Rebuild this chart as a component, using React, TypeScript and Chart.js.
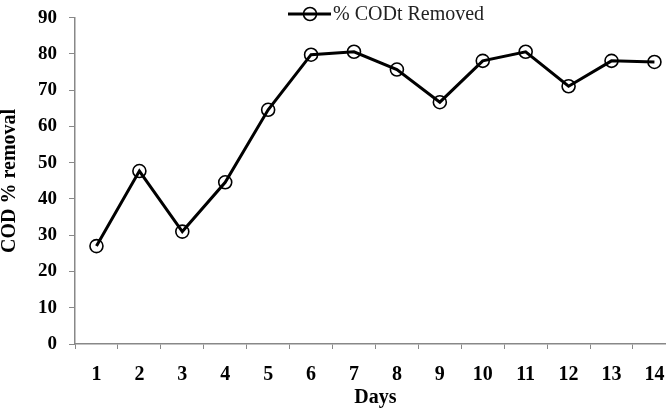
import React, { useEffect, useRef } from "react";
import { Chart, registerables } from "chart.js";

Chart.register(...registerables);

const days = ["1", "2", "3", "4", "5", "6", "7", "8", "9", "10", "11", "12", "13", "14"];
const codRemoved = [27, 47.7, 31, 44.6, 64.6, 79.8, 80.6, 75.7, 66.7, 78.1, 80.6, 71.1, 78.1, 77.8];
const seriesLabel = "% CODt Removed";
const xTitle = "Days";
const yTitle = "COD % removal";

const FONT = "'Liberation Serif', 'Times New Roman', 'DejaVu Serif', serif";

const legendPlugin = {
  id: "lineLegend",
  afterDraw(chart: any) {
    const ctx = chart.ctx;
    const ds = chart.data.datasets[0];
    const y = 14;
    ctx.save();
    ctx.strokeStyle = "#000";
    ctx.lineWidth = 3;
    ctx.beginPath();
    ctx.moveTo(288, y);
    ctx.lineTo(331, y);
    ctx.stroke();
    ctx.lineWidth = 1.6;
    ctx.beginPath();
    ctx.arc(310, y, 6.5, 0, Math.PI * 2);
    ctx.stroke();
    ctx.fillStyle = "#222";
    ctx.font = "20px " + FONT;
    ctx.textBaseline = "middle";
    ctx.textAlign = "left";
    ctx.fillText(ds.label, 333, y + 1);
    ctx.restore();
  },
};

export default function App() {
  const ref = useRef<HTMLCanvasElement | null>(null);
  useEffect(() => {
    if (!ref.current) return;
    const chart = new Chart(ref.current, {
      type: "line",
      data: {
        labels: days,
        datasets: [
          {
            label: seriesLabel,
            data: codRemoved,
            borderColor: "#000",
            borderWidth: 3,
            backgroundColor: "transparent",
            pointRadius: 6.5,
            pointBorderWidth: 1.6,
            pointBorderColor: "#000",
            pointBackgroundColor: "transparent",
            tension: 0,
            clip: false,
          },
        ],
      },
      options: {
        animation: false,
        responsive: true,
        maintainAspectRatio: false,
        layout: { padding: { left: 0, right: 0, top: 17, bottom: 0 } },
        plugins: { legend: { display: false }, tooltip: { enabled: false } },
        scales: {
          x: {
            type: "category",
            offset: true,
            grid: { offset: true, drawOnChartArea: false, drawTicks: true, tickLength: 5, color: "#888" },
            border: { display: true, color: "#888", width: 1.5 },
            ticks: { color: "#000", padding: 14, font: { family: FONT, size: 20, weight: "bold" } },
            title: {
              display: true,
              text: xTitle,
              color: "#000",
              font: { family: FONT, size: 20, weight: "bold", lineHeight: 1 },
              padding: { top: 0, bottom: 0 },
            },
            afterFit: (s: any) => {
              s.height = 64;
            },
          },
          y: {
            min: 0,
            max: 90,
            grid: { drawOnChartArea: false, drawTicks: true, tickLength: 6, color: "#888" },
            border: { display: true, color: "#888", width: 1.5 },
            ticks: { stepSize: 10, color: "#000", padding: 12, font: { family: FONT, size: 19, weight: "bold", lineHeight: 0.6 } },
            title: {
              display: true,
              text: yTitle,
              color: "#000",
              font: { family: FONT, size: 20, weight: "bold", lineHeight: 1 },
              padding: { top: 0, bottom: 0 },
            },
            afterFit: (s: any) => {
              s.width = 75;
            },
          },
        },
      },
      plugins: [legendPlugin],
    });
    return () => chart.destroy();
  }, []);

  return (
    <div style={{ position: "fixed", left: 0, top: 0, width: 666, height: 408, overflow: "hidden", background: "#fff" }}>
      <div style={{ position: "relative", width: 684, height: 408 }}>
        <canvas ref={ref} />
      </div>
    </div>
  );
}
